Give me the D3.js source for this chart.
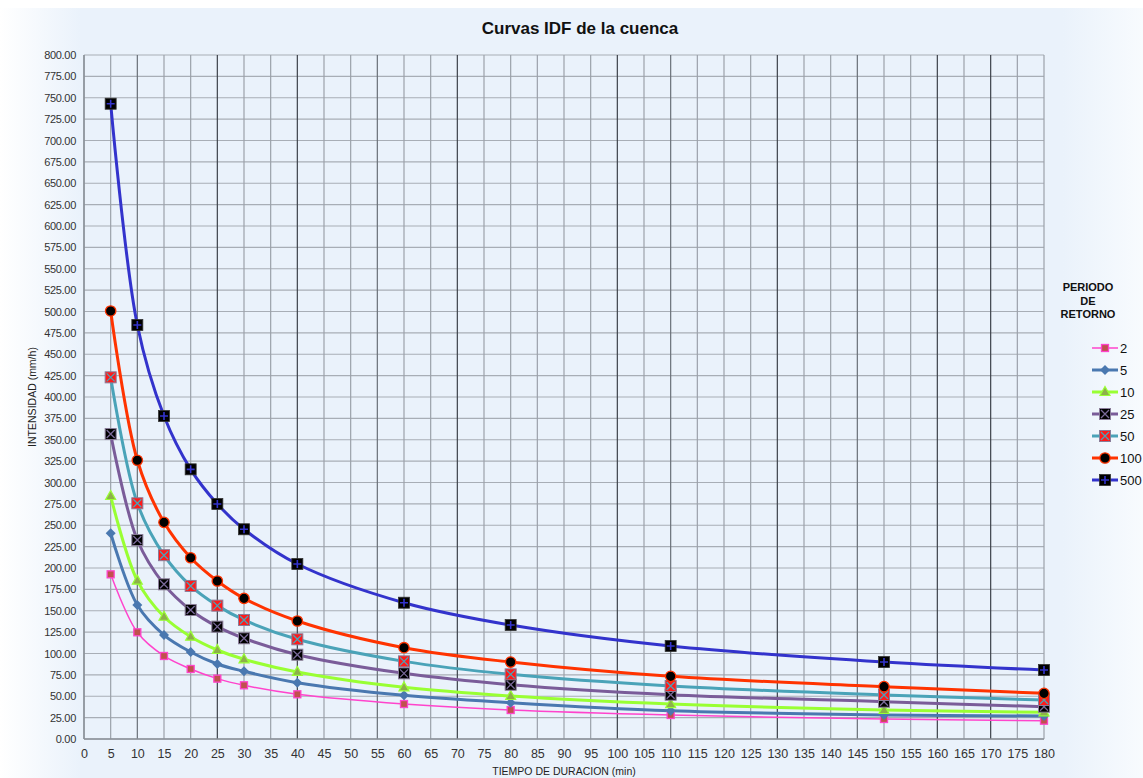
<!DOCTYPE html>
<html><head><meta charset="utf-8">
<script src="https://cdn.jsdelivr.net/npm/d3@7"></script>
<style>body{margin:0;background:#fff;font-family:"Liberation Sans",Arial,sans-serif}</style>
</head><body><svg id="c" width="1143" height="778"></svg>
<script>
const durations = [5,10,15,20,25,30,40,60,80,110,150,180];
const periods = ["2","5","10","25","50","100","500"];
const s2   = [192.6,124.8,97.1,81.9,70.6,62.8,52.3,40.9,33.9,28.1,23.4,21.4];
const s5   = [240.6,156.7,121.6,101.8,87.7,79.2,65.9,51.1,42.5,33.1,28.1,26.9];
const s10  = [284.2,185.2,143.0,119.7,104.1,93.2,78.4,60.4,50.3,40.9,33.9,31.2];
const s25  = [356.7,232.7,180.9,150.9,131.4,117.8,98.6,76.8,63.5,51.8,43.6,37.8];
const s50  = [423.0,275.7,215.0,179.0,156.0,139.2,116.6,90.8,75.6,62.0,51.5,45.6];
const s100 = [500.6,326.0,253.4,212.0,184.8,164.5,138.0,106.8,90.0,73.3,61.2,53.4];
const s500 = [743.0,484.2,377.8,315.4,274.9,245.3,204.7,159.4,133.3,108.8,90.0,80.7];
const xTicks = d3.range(0,181,5);
const yTicks = d3.range(0,801,25);
const seriesValues = [s2,s5,s10,s25,s50,s100,s500];
const darkGrid = [25,40,70,100,130,160,170];
const midGrid = [10,55,110,145];

const styles = [
 {line:"#ff44cc", w:1.5, m:"sq", fill:"#c0504d", stroke:"#ff44cc"},
 {line:"#4a78b0", w:3, m:"dia", fill:"#4a78b0", stroke:"#4a78b0"},
 {line:"#99ff33", w:3, m:"tri", fill:"#8db04a", stroke:"#99ff33"},
 {line:"#7a5c99", w:3, m:"x", fill:"#000", stroke:"#7a6a99"},
 {line:"#4aa3b8", w:3, m:"x", fill:"#ff1a1a", stroke:"#4aa3b8"},
 {line:"#ff3300", w:3, m:"circ", fill:"#000", stroke:"#ff3300"},
 {line:"#3333cc", w:3, m:"plus", fill:"#000", stroke:"#3333cc"}
];

const svg = d3.select("#c");
const defs = svg.append("defs");
const g1 = defs.append("linearGradient").attr("id","bgx").attr("x1",0).attr("x2",1).attr("y1",0).attr("y2",0);
g1.append("stop").attr("offset","0").attr("stop-color","#ffffff");
g1.append("stop").attr("offset","0.07").attr("stop-color","#eaf2fb");
g1.append("stop").attr("offset","0.93").attr("stop-color","#eaf2fb");
g1.append("stop").attr("offset","1").attr("stop-color","#f8fbfe");
svg.append("rect").attr("x",0).attr("y",8).attr("width",1143).attr("height",770).attr("fill","url(#bgx)");

const x = d3.scaleLinear().domain([0,180]).range([84,1044]);
const y = d3.scaleLinear().domain([0,800]).range([739,55]);

// grid
const grid = svg.append("g");
grid.selectAll("line.h").data(yTicks).join("line")
  .attr("x1",84).attr("x2",1044).attr("y1",d=>y(d)).attr("y2",d=>y(d))
  .attr("stroke","#a8aeb6").attr("stroke-width",1.2);
grid.selectAll("line.v").data(xTicks).join("line")
  .attr("y1",55).attr("y2",739).attr("x1",d=>x(d)).attr("x2",d=>x(d))
  .attr("stroke",d=> darkGrid.includes(d) ? "#3d424a" : midGrid.includes(d) ? "#6a7078" : "#9ba1aa")
  .attr("stroke-width",1.2);
svg.append("line").attr("x1",84).attr("x2",84).attr("y1",55).attr("y2",739).attr("stroke","#8a9099").attr("stroke-width",1.5);
svg.append("line").attr("x1",84).attr("x2",1044).attr("y1",739).attr("y2",739).attr("stroke","#8a9099").attr("stroke-width",1.5);

// axes
const ya = svg.append("g").attr("transform","translate(84,0)")
  .call(d3.axisLeft(y).tickValues(yTicks).tickFormat(d3.format(".2f")).tickSize(0).tickPadding(8));
ya.select(".domain").remove();
ya.selectAll("text").attr("font-size",11).attr("fill","#333").attr("font-family","Liberation Sans, Arial").attr("letter-spacing","-0.3");
const xa = svg.append("g").attr("transform","translate(0,739)")
  .call(d3.axisBottom(x).tickValues(xTicks).tickFormat(d3.format("d")).tickSize(0).tickPadding(10));
xa.select(".domain").remove();
xa.selectAll("text").attr("font-size",12.5).attr("fill","#333").attr("font-family","Liberation Sans, Arial");

svg.append("text").attr("x",580).attr("y",34).attr("text-anchor","middle")
  .attr("font-size",17).attr("font-weight","bold").attr("fill","#111").text("Curvas IDF de la cuenca");
svg.append("text").attr("x",564).attr("y",775).attr("text-anchor","middle")
  .attr("font-size",10.5).attr("fill","#222").text("TIEMPO DE DURACION (min)");
svg.append("text").attr("transform","translate(36,397) rotate(-90)").attr("text-anchor","middle")
  .attr("font-size",10.5).attr("fill","#222").text("INTENSIDAD (mm/h)");

const line = d3.line().x(d=>x(d[0])).y(d=>y(d[1])).curve(d3.curveCatmullRom.alpha(0.5));

function marker(g, st, cx, cy){
  const s = 5.5;
  if(st.m==="sq"){
    g.append("rect").attr("x",cx-3.5).attr("y",cy-3.5).attr("width",7).attr("height",7)
      .attr("fill",st.fill).attr("stroke",st.stroke).attr("stroke-width",1.3);
  } else if(st.m==="dia"){
    g.append("path").attr("d",`M${cx},${cy-5}L${cx+5},${cy}L${cx},${cy+5}L${cx-5},${cy}Z`).attr("fill",st.fill);
  } else if(st.m==="tri"){
    g.append("path").attr("d",`M${cx},${cy-5.5}L${cx+5},${cy+3.5}L${cx-5},${cy+3.5}Z`)
      .attr("fill",st.fill).attr("stroke",st.stroke).attr("stroke-width",1.2);
  } else if(st.m==="x"){
    g.append("rect").attr("x",cx-s).attr("y",cy-s).attr("width",2*s).attr("height",2*s)
      .attr("fill",st.fill).attr("stroke","#8a7d99").attr("stroke-width",1);
    g.append("path").attr("d",`M${cx-4},${cy-4}L${cx+4},${cy+4}M${cx+4},${cy-4}L${cx-4},${cy+4}`)
      .attr("stroke",st.stroke).attr("stroke-width",1.3);
  } else if(st.m==="circ"){
    g.append("circle").attr("cx",cx).attr("cy",cy).attr("r",5.2).attr("fill",st.fill)
      .attr("stroke",st.stroke).attr("stroke-width",1.3);
  } else if(st.m==="plus"){
    g.append("rect").attr("x",cx-s).attr("y",cy-s).attr("width",2*s).attr("height",2*s)
      .attr("fill",st.fill).attr("stroke","#333").attr("stroke-width",0.8);
    g.append("path").attr("d",`M${cx-4},${cy}L${cx+4},${cy}M${cx},${cy-4}L${cx},${cy+4}`)
      .attr("stroke",st.stroke).attr("stroke-width",1.6);
  }
}

const plot = svg.append("g");
seriesValues.forEach((vals,i)=>{
  const st = styles[i];
  const pts = durations.map((d,j)=>[d,vals[j]]);
  plot.append("path").attr("d",line(pts)).attr("fill","none").attr("stroke",st.line).attr("stroke-width",st.w);
});
seriesValues.forEach((vals,i)=>{
  const st = styles[i];
  const mg = plot.append("g");
  durations.forEach((d,j)=>marker(mg, st, x(d), y(vals[j])));
});

// legend
const lg = svg.append("g");
["PERIODO","DE","RETORNO"].forEach((t,i)=>{
  lg.append("text").attr("x",1088).attr("y",291+i*13.5).attr("text-anchor","middle")
    .attr("font-size",11).attr("font-weight","bold").attr("fill","#111").text(t);
});
periods.forEach((p,i)=>{
  const st = styles[i];
  const yy = 348 + i*22;
  lg.append("line").attr("x1",1092).attr("x2",1118).attr("y1",yy).attr("y2",yy)
    .attr("stroke",st.line).attr("stroke-width",st.w);
  marker(lg, st, 1105, yy);
  lg.append("text").attr("x",1120).attr("y",yy+4.5).attr("font-size",13).attr("fill","#111").text(p);
});
</script></body></html>
